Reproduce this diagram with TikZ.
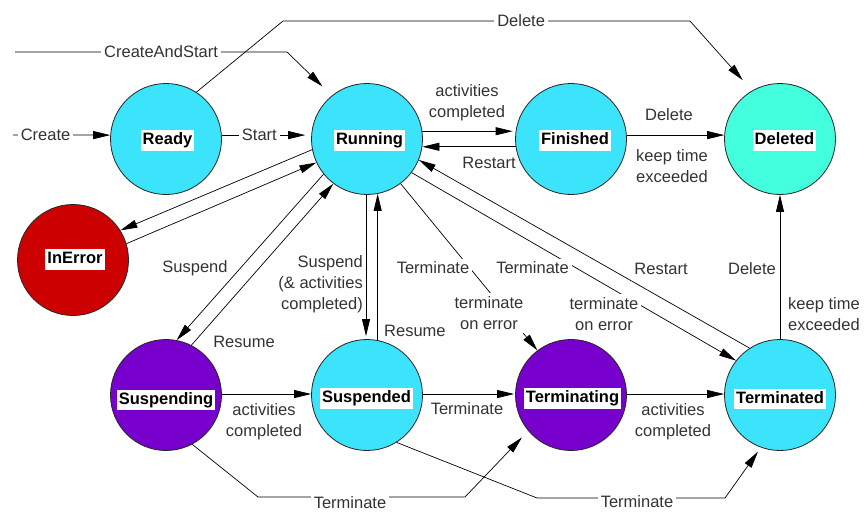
\documentclass[tikz,border=0pt]{standalone}
\usepackage{fontspec}
\setmainfont{Liberation Sans}
\usetikzlibrary{arrows.meta}
\definecolor{stcyan}{HTML}{3BE3FB}
\definecolor{stdel}{HTML}{44FFDD}
\definecolor{stred}{HTML}{CC0000}
\definecolor{stpurple}{HTML}{7700CC}
\definecolor{lblgray}{HTML}{333333}
\begin{document}
\begin{tikzpicture}[x=1pt,y=-1pt,
  state/.style={circle, draw=black!85, line width=0.8pt, minimum size=111pt, inner sep=0pt},
  slabel/.style={fill=white, font=\fontsize{16.5}{20}\selectfont\bfseries, inner sep=2pt, text height=12.5pt, text depth=4pt},
  lbl/.style={font=\fontsize{16.5}{21}\selectfont, text=lblgray, inner sep=1pt, align=center},
  gap/.style={lbl, fill=white, inner sep=3pt},
  conn/.style={draw=black, line width=0.7pt},
  arr/.style={conn, -{Triangle[length=17pt,width=8pt]}},
]
\useasboundingbox (0,0) rectangle (867,514);

% states
\node[state, fill=stcyan]   (ready)       at (166,139) {};
\node[state, fill=stcyan]   (running)     at (367,139) {};
\node[state, fill=stcyan]   (finished)    at (571,139) {};
\node[state, fill=stdel]    (deleted)     at (780,139) {};
\node[state, fill=stred]    (inerror)     at (73,260) {};
\node[state, fill=stpurple] (suspending)  at (166,395) {};
\node[state, fill=stcyan]   (suspended)   at (367,395) {};
\node[state, fill=stpurple] (terminating) at (571,395) {};
\node[state, fill=stcyan]   (terminated)  at (780,395) {};

\node[slabel] (readyT)       at (167.5,140.5) {Ready};
\node[slabel] (runningT)     at (369.5,140.5) {Running};
\node[slabel] (finishedT)    at (575,140.5) {Finished};
\node[slabel] (deletedT)     at (784.5,140.5) {Deleted};
\node[slabel] (inerrorT)     at (75,259.5) {InError};
\node[slabel] (suspendingT)  at (166,400) {Suspending};
\node[slabel] (suspendedT)   at (366.5,398.5) {Suspended};
\node[slabel] (terminatingT) at (572.5,398.5) {Terminating};
\node[slabel] (terminatedT)  at (780,399) {Terminated};

% Create
\coordinate (createS) at (13,135);
\draw[arr] (createS) -- node[gap, pos=0.335] (createL) {Create} (ready.176);
% Start
\draw[arr, shorten >=6pt] (ready.4) -- node[gap, pos=0.42] (startL) {Start} (running.176);
% CreateAndStart
\coordinate (casS) at (15,52);
\coordinate (casC) at (287,52);
\draw[arr, shorten >=13pt] (casS) -- node[gap, pos=0.537] (casL) {CreateAndStart} (casC) -- (running.129);
% Delete (top)
\coordinate (delA) at (283,21);
\coordinate (delB) at (690,21);
\draw[arr, shorten >=14pt] (ready.57) -- (delA) -- node[gap, pos=0.585] (deltopL) {Delete} (delB) -- (deleted.120);

% Running <-> Finished
\draw[arr, shorten >=3pt] (running.8) -- (finished.172);
\node[lbl] (actL1) at (467,103) {activities\\completed};
\draw[arr] (finished.188) -- (running.352);
\node[lbl] (restartL1) at (489,163) {Restart};
% Finished -> Deleted
\draw[arr] (finished.4) -- (deleted.176);
\node[lbl] (deleteL2) at (669,115) {Delete};
\node[lbl] (keepL1) at (672,166) {keep time\\exceeded};

% Running <-> InError
\draw[arr] (running.191) -- (inerror.32);
\draw[arr] (inerror.17) -- (running.205);

% Running <-> Suspending
\draw[arr] (running.219) -- (suspending.79);
\draw[arr] (suspending.63) -- (running.233);
\node[lbl] (suspL1) at (195,268) {Suspend};
\node[lbl] (resumeL1) at (244,342) {Resume};

% Running <-> Suspended
\draw[arr, shorten >=3pt] (running.269) -- (suspended.91);
\draw[arr] (suspended.79) -- (running.281);
\node[lbl, align=right, anchor=east] (suspL2) at (364,284) {Suspend\\(\& activities\\completed)};
\node[lbl, anchor=west] (resumeL2) at (383,331) {Resume};

% Running -> Terminating
\draw[arr] (running.307) -- (terminating.127);
\node[gap] (termL1) at (433,268) {Terminate};
\node[gap] (termerrL1) at (489,313) {terminate\\on error};

% Running -> Terminated
\draw[arr] (running.323) -- (terminated.142);
\node[gap] (termL2) at (532.5,268) {Terminate};
\node[gap] (termerrL2) at (604,314) {terminate\\on error};

% Terminated -> Running
\draw[arr] (terminated.123) -- (running.338);
\node[lbl] (restartL2) at (661,269) {Restart};

% Terminated -> Deleted
\draw[arr] (terminated.90) -- (deleted.270);
\node[lbl, anchor=east] (deleteL3) at (777,269) {Delete};
\node[lbl, align=left, anchor=west] (keepL2) at (787,314) {keep time\\exceeded};

% bottom row
\draw[arr] (suspending.1) -- (suspended.179);
\node[lbl] (actL2) at (264,422) {activities\\completed};
\draw[arr, shorten >=1pt] (suspended.1) -- (terminating.179);
\node[lbl] (termL3) at (467,409) {Terminate};
\draw[arr] (terminating.1) -- (terminated.179);
\node[lbl] (actL3) at (673,422) {activities\\completed};

% bottom Terminate paths
\coordinate (btA1) at (258,497);
\coordinate (btA2) at (465,497);
\draw[arr, shorten >=9pt] (suspending.298) -- (btA1) -- (btA2) -- (terminating.220);
\node[gap] (termL4) at (350,503) {Terminate};
\coordinate (btB1) at (537,498);
\coordinate (btB2) at (725,498);
\draw[arr, shorten >=5pt] (suspended.302) -- (btB1) -- (btB2) -- (terminated.250);
\node[gap] (termL5) at (637,502) {Terminate};
\end{tikzpicture}
\end{document}
